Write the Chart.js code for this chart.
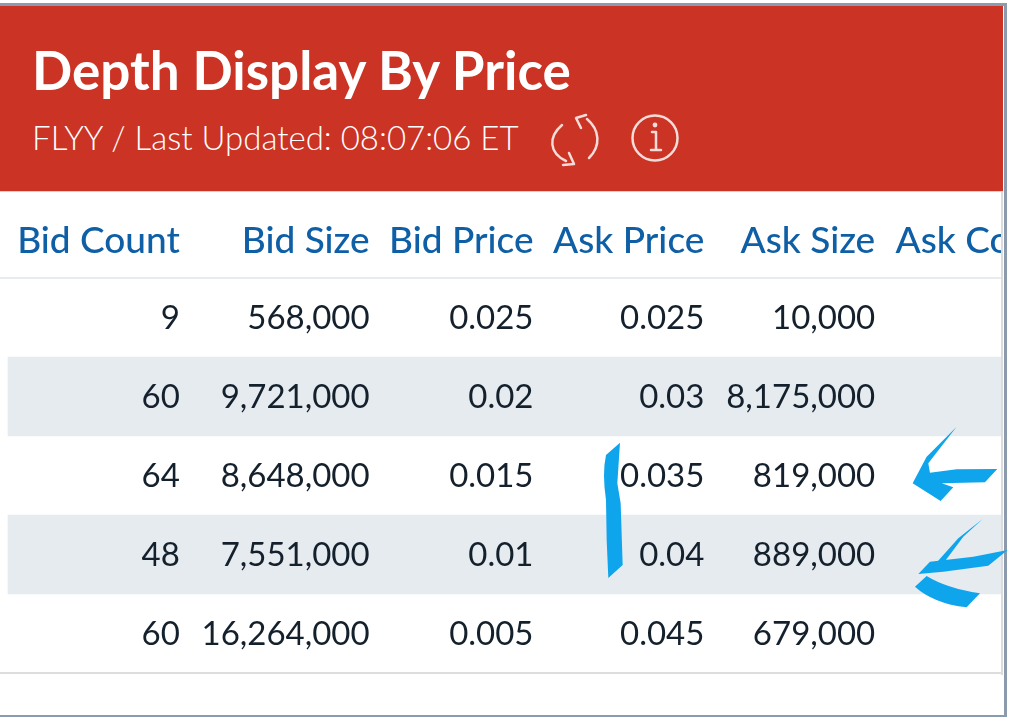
<!DOCTYPE html>
<html>
<head>
<meta charset="utf-8">
<title>Depth Display By Price</title>
<script src="https://cdn.jsdelivr.net/npm/chart.js@4"></script>
<style>
  html, body { margin: 0; background: #fff; overflow: hidden; }
  body { width: 1029px; height: 719px; position: relative; font-family: Lato, sans-serif; }
  #frame { position: absolute; left: -4px; top: 3px; width: 1006px; height: 709px; border: solid #8c9aad; border-width: 3px 3px 2px 2px; }
  #header { position: absolute; left: 0; top: 6px; width: 1003px; height: 186px; background: #cb3324; color: #fff; border-bottom: 1px solid #f0c8c2; box-sizing: border-box; }
  #title { position: absolute; left: 32px; top: 34px; font-size: 53px; line-height: 60px; font-weight: 700; white-space: nowrap; }
  #subtitle { position: absolute; left: 32px; top: 111px; font-size: 33px; line-height: 40px; font-weight: 300; white-space: nowrap; }
  #table { position: absolute; left: 0; top: 192px; width: 1001px; height: 483px; overflow: hidden; }
  #edge { position: absolute; left: 1001px; top: 192px; width: 2px; height: 483px; background: #dcdcdc; }
  #pen { position: absolute; left: 0; top: 0; pointer-events: none; }
</style>
</head>
<body>
<div id="frame"></div>
<div id="header">
  <div id="title">Depth Display By Price</div>
  <div id="subtitle">FLYY / Last Updated: 08:07:06 ET</div>
</div>
<div id="table"><canvas id="depthTable" width="1080" height="483"></canvas></div>
<div id="edge"></div>
<svg id="pen" width="1029" height="719">
  <!-- refresh and info icons -->
  <g fill="none" stroke="#f6dcd8" stroke-width="2.5" stroke-linecap="round" stroke-linejoin="round">
    <path d="M562 125 C548 137 549 153 566 161"/>
    <path d="M569 153 L574 164 L563 165"/>
    <path d="M587 119 C600 130 601 146 589 158"/>
    <path d="M581 128 L576 118 L586 115"/>
    <circle cx="655" cy="138" r="22.5"/>
    <path d="M652 132 H656 V150 M651 150 H661"/>
  </g>
  <circle cx="655" cy="125" r="2.4" fill="#f6dcd8"/>
  <!-- pen marks on top of the screenshot -->
  <g transform="translate(580 400) scale(0.3333)" fill="#0ea5ec">
    <path d="M120 128 L78 165 Q66 220 78 300 L80 420 L85 534 L128 495 L122 310 L112 250 Z"/>
    <path d="M1130 80 L1040 170 L998 250 L1082 303 L1120 262 L1085 250 L1215 247 L1252 207 L1130 208 L1050 218 L1045 190 Z"/>
    <path d="M1208 357 L1135 415 L1072 485 L1096 482 L1150 410 Z"/>
    <path d="M1283 450 L1180 470 L1050 485 L1015 522 L1090 515 L1225 497 Z"/>
    <path d="M1040 528 L1005 560 Q1060 610 1160 622 L1200 580 Q1100 565 1040 528 Z"/>
  </g>
</svg>
<script>
// Table contents
const columnHeaders = ['Bid Count', 'Bid Size', 'Bid Price', 'Ask Price', 'Ask Size', 'Ask Count'];
const bidCounts = [9, 60, 64, 48, 60];
const bidSizes = [568000, 9721000, 8648000, 7551000, 16264000];
const bidPrices = ['0.025', '0.02', '0.015', '0.01', '0.005'];
const askPrices = ['0.025', '0.03', '0.035', '0.04', '0.045'];
const askSizes = [10000, 8175000, 819000, 889000, 679000];

const fmtSize = (v) => v.toLocaleString('en-US');
const cells = [bidCounts.map(String), bidSizes.map(fmtSize), bidPrices, askPrices, askSizes.map(fmtSize)];

// Right edge of each column on the x scale
const columnEnds = [180, 370, 534, 705, 876, 1066];
const tableWidth = 1080;
const tableLeft = 8;

// Draw the cell values at the scale position of their column and row
const cellText = {
  id: 'cellText',
  afterDatasetsDraw(chart) {
    const { ctx, scales } = chart;
    ctx.save();
    ctx.font = '33px Lato, sans-serif';
    ctx.fillStyle = '#14202c';
    ctx.textAlign = 'right';
    ctx.textBaseline = 'middle';
    cells.forEach((col, c) => {
      col.forEach((text, r) => {
        ctx.fillText(text, scales.x.getPixelForValue(columnEnds[c]), scales.y.getPixelForValue(r) + 1);
      });
    });
    ctx.restore();
  },
};

new Chart(document.getElementById('depthTable'), {
  type: 'bar',
  data: {
    labels: bidPrices,
    datasets: [
      {
        // zebra stripes on the 2nd and 4th rows
        data: [null, [tableLeft, tableWidth], null, [tableLeft, tableWidth], null],
        backgroundColor: '#e6ebf0',
        barPercentage: 1,
        categoryPercentage: 1,
      },
    ],
  },
  options: {
    indexAxis: 'y',
    responsive: false,
    animation: false,
    layout: { padding: { bottom: 2 } },
    plugins: { legend: { display: false }, title: { display: false }, tooltip: { enabled: false } },
    scales: {
      x: {
        position: 'top',
        min: 0,
        max: tableWidth,
        grid: { display: false, drawTicks: false },
        border: { display: false },
        afterBuildTicks: (axis) => { axis.ticks = columnEnds.map((value) => ({ value })); },
        afterFit: (axis) => { axis.height = 86; },
        ticks: {
          autoSkip: false,
          maxRotation: 0,
          align: 'end',
          padding: 15,
          color: '#0f5fa6',
          font: { family: 'Lato, sans-serif', size: 37, weight: '500' },
          callback: (value, index) => columnHeaders[index],
        },
      },
      y: {
        afterFit: (axis) => { axis.width = 0; },
        ticks: { display: false },
        border: { display: false },
        grid: {
          drawTicks: false,
          lineWidth: 2,
          // the closing line has no tick of its own, so it gets the plain scale context
          color: (c) => (c.type !== 'tick' ? '#dddddd' : c.index === 0 ? '#e8ecef' : 'transparent'),
        },
      },
    },
  },
  plugins: [cellText],
});
</script>
</body>
</html>
